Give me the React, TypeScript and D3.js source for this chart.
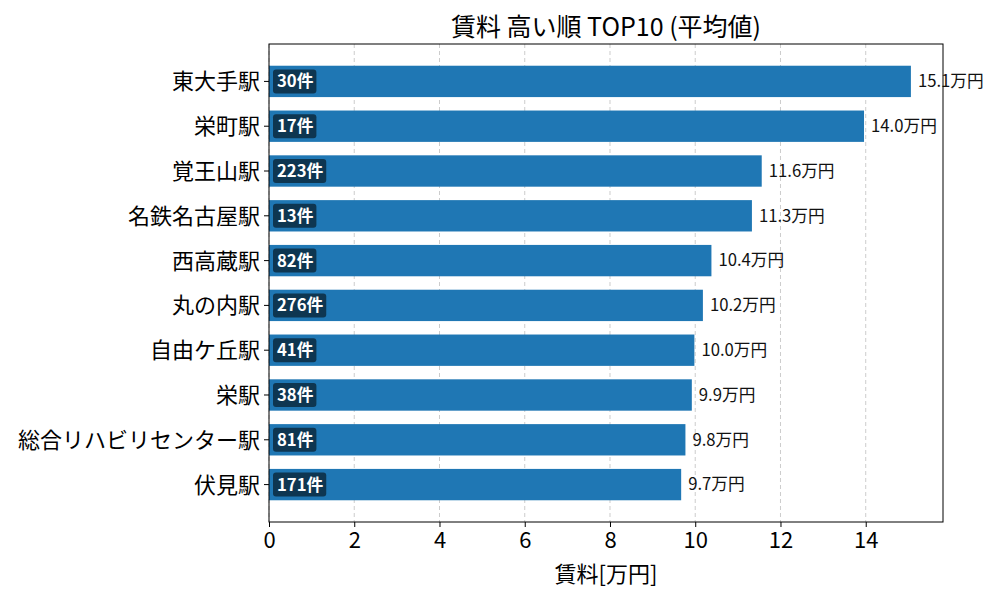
import * as d3 from "d3";
import { useEffect, useRef } from "react";

const stations = [
  "東大手駅",
  "栄町駅",
  "覚王山駅",
  "名鉄名古屋駅",
  "西高蔵駅",
  "丸の内駅",
  "自由ケ丘駅",
  "栄駅",
  "総合リハビリセンター駅",
  "伏見駅",
];
const avgRent = [15.06, 13.96, 11.56, 11.33, 10.38, 10.18, 9.98, 9.92, 9.77, 9.67];
const counts = [30, 17, 223, 13, 82, 276, 41, 38, 81, 171];
const xTicks = [0, 2, 4, 6, 8, 10, 12, 14];

const FONT = "'Noto Sans CJK JP', 'Noto Sans', sans-serif";

export default function App() {
  const ref = useRef<SVGSVGElement | null>(null);

  useEffect(() => {
    const width = 1000;
    const height = 600;
    const margin = { top: 44, right: 57, bottom: 78, left: 269 };
    const svg = d3.select(ref.current);
    svg.selectAll("*").remove();

    const x = d3
      .scaleLinear()
      .domain([0, d3.max(avgRent)! * 1.05])
      .range([margin.left, width - margin.right]);
    const y = d3
      .scaleLinear()
      .domain([-0.835, 9.835])
      .range([margin.top, height - margin.bottom]);
    const barH = 0.7 * (y(1) - y(0));

    // grid
    svg
      .append("g")
      .selectAll("line")
      .data(xTicks)
      .enter()
      .append("line")
      .attr("x1", (d) => x(d))
      .attr("x2", (d) => x(d))
      .attr("y1", margin.top)
      .attr("y2", height - margin.bottom)
      .attr("stroke", "#cccccc")
      .attr("stroke-width", 1)
      .attr("stroke-dasharray", "4,3");

    // bars
    svg
      .append("g")
      .selectAll("rect")
      .data(avgRent)
      .enter()
      .append("rect")
      .attr("x", x(0))
      .attr("y", (_, i) => y(i) - barH / 2)
      .attr("width", (d) => x(d) - x(0))
      .attr("height", barH)
      .attr("fill", "#1f77b4");

    // value labels
    svg
      .append("g")
      .selectAll("text")
      .data(avgRent)
      .enter()
      .append("text")
      .attr("x", (d) => x(d) + 7)
      .attr("y", (_, i) => y(i))
      .attr("dy", "0.35em")
      .attr("font-family", FONT)
      .attr("font-size", 16.7)
      .attr("fill", "#111")
      .text((d) => `${d.toFixed(1)}万円`);

    // count badges
    const badges = svg
      .append("g")
      .selectAll("g")
      .data(counts)
      .enter()
      .append("g")
      .attr("transform", (_, i) => `translate(${x(0) + 4}, ${y(i)})`);
    const rects = badges
      .append("rect")
      .attr("y", -12)
      .attr("height", 24)
      .attr("rx", 3)
      .attr("fill", "#0e3651");
    const labels = badges
      .append("text")
      .attr("x", 4)
      .attr("dy", "0.36em")
      .attr("font-family", FONT)
      .attr("font-size", 16.7)
      .attr("font-weight", "bold")
      .attr("fill", "#ffffff")
      .text((d) => `${d}件`);
    labels.each(function (_, i) {
      const w = (this as SVGTextElement).getComputedTextLength();
      d3.select(rects.nodes()[i]).attr("width", w + 7);
    });

    // y axis
    const yAxis = svg.append("g");
    stations.forEach((s, i) => {
      yAxis
        .append("line")
        .attr("x1", margin.left - 5)
        .attr("x2", margin.left)
        .attr("y1", y(i))
        .attr("y2", y(i))
        .attr("stroke", "#000");
      yAxis
        .append("text")
        .attr("x", margin.left - 9)
        .attr("y", y(i))
        .attr("dy", "0.36em")
        .attr("text-anchor", "end")
        .attr("font-family", FONT)
        .attr("font-size", 22)
        .attr("fill", "#000")
        .text(s);
    });

    // x axis
    const xAxis = svg
      .append("g")
      .attr("transform", `translate(0, ${height - margin.bottom})`)
      .call(d3.axisBottom(x).tickValues(xTicks).tickSize(5).tickPadding(5));
    xAxis.select(".domain").remove();
    xAxis
      .selectAll("text")
      .attr("font-family", FONT)
      .attr("font-size", 22)
      .attr("fill", "#000");

    // frame
    svg
      .append("rect")
      .attr("x", margin.left)
      .attr("y", margin.top)
      .attr("width", width - margin.right - margin.left)
      .attr("height", height - margin.bottom - margin.top)
      .attr("fill", "none")
      .attr("stroke", "#000")
      .attr("stroke-width", 1);

    svg
      .append("text")
      .attr("x", (margin.left + width - margin.right) / 2)
      .attr("y", 36)
      .attr("text-anchor", "middle")
      .attr("font-family", FONT)
      .attr("font-size", 25)
      .attr("fill", "#000")
      .text("賃料 高い順 TOP10 (平均値)");

    svg
      .append("text")
      .attr("x", (margin.left + width - margin.right) / 2)
      .attr("y", 582)
      .attr("text-anchor", "middle")
      .attr("font-family", FONT)
      .attr("font-size", 22)
      .attr("fill", "#000")
      .text("賃料[万円]");
  }, []);

  return (
    <svg
      ref={ref}
      width={1000}
      height={600}
      style={{ position: "absolute", left: 0, top: 0, background: "#fff" }}
    />
  );
}
